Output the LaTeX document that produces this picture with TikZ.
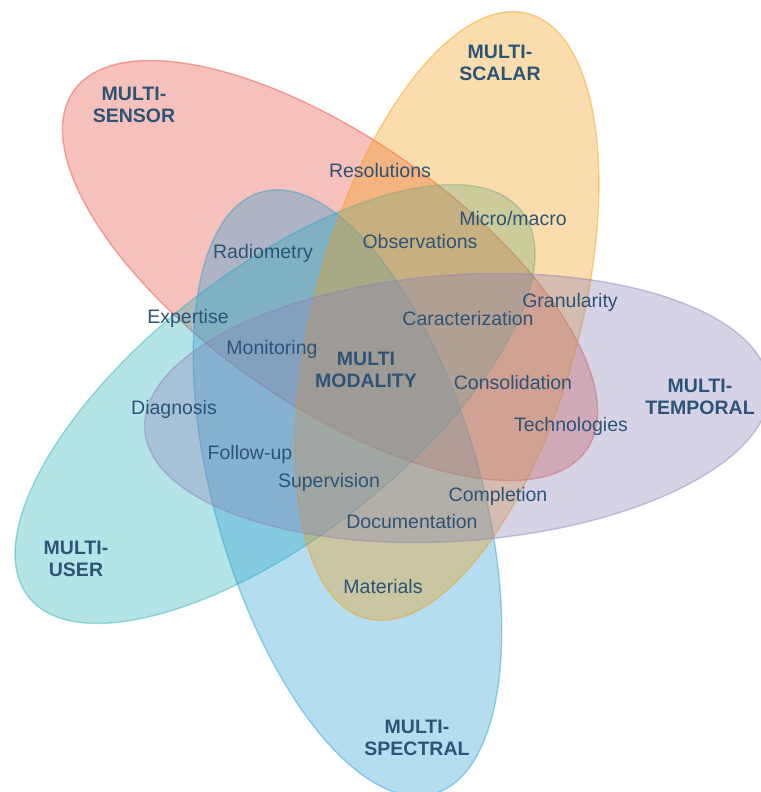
\documentclass[tikz,border=0pt]{standalone}
\usepackage{fontspec}
\setmainfont{Liberation Sans}
\definecolor{sensorc}{RGB}{231,76,60}
\definecolor{scalarc}{RGB}{243,156,18}
\definecolor{userc}{RGB}{44,178,184}
\definecolor{spectralc}{RGB}{41,158,212}
\definecolor{temporalc}{RGB}{141,129,184}
\definecolor{labelc}{RGB}{44,84,118}
\begin{document}
\begin{tikzpicture}[x = .02cm, y = .02cm,
  set/.style = {line width = .8pt, fill opacity = .35, draw opacity = .45},
  item/.style = {text = labelc, anchor = base, inner sep = 0pt,
  font = \fontsize{11.1}{12.5}\selectfont},
  head/.style = {text = labelc, align = center, inner sep = 0pt,
  font = \fontsize{11.1}{12.5}\selectfont\bfseries}]
  \useasboundingbox (0, 0) rectangle (761, 792);
  % the five sets
  \draw[set, draw = sensorc, fill = sensorc, shift = {(330, 521.5)}, rotate = -35]
  (0, 0) ellipse[x radius = 313, y radius = 133];
  \draw[set, draw = userc, fill = userc, shift = {(275, 388)}, rotate = 38]
  (0, 0) ellipse[x radius = 313, y radius = 133];
  \draw[set, draw = spectralc, fill = spectralc, shift = {(347.5, 299)}, rotate = 106]
  (0, 0) ellipse[x radius = 313, y radius = 133];
  \draw[set, draw = scalarc, fill = scalarc, shift = {(447, 476)}, rotate = 75]
  (0, 0) ellipse[x radius = 313, y radius = 133];
  \draw[set, draw = temporalc, fill = temporalc, shift = {(457, 384)}, rotate = 4]
  (0, 0) ellipse[x radius = 313, y radius = 133];
  % set names
  \node[head] (sensor) at (134, 687) {MULTI-\\SENSOR};
  \node[head] (scalar) at (500, 729) {MULTI-\\SCALAR};
  \node[head] (temporal) at (700, 395) {MULTI-\\TEMPORAL};
  \node[head] (user) at (76, 233) {MULTI-\\USER};
  \node[head] (spectral) at (417, 54) {MULTI-\\SPECTRAL};
  \node[head] (modality) at (366, 422) {MULTI\\MODALITY};
  % overlaps
  \node[item] (resolutions) at (380, 614) {Resolutions};
  \node[item] (micro) at (513, 566) {Micro/macro};
  \node[item] (observations) at (420, 543) {Observations};
  \node[item] (radiometry) at (263, 533) {Radiometry};
  \node[item] (granularity) at (570, 484) {Granularity};
  \node[item] (expertise) at (188, 468) {Expertise};
  \node[item] (caracterization) at (468, 466) {Caracterization};
  \node[item] (monitoring) at (272, 437) {Monitoring};
  \node[item] (consolidation) at (513, 402) {Consolidation};
  \node[item] (diagnosis) at (174, 377) {Diagnosis};
  \node[item] (technologies) at (571, 360) {Technologies};
  \node[item] (followup) at (250, 332) {Follow-up};
  \node[item] (supervision) at (329, 304) {Supervision};
  \node[item] (completion) at (498, 290) {Completion};
  \node[item] (documentation) at (412, 263) {Documentation};
  \node[item] (materials) at (383, 198) {Materials};
\end{tikzpicture}
\end{document}
